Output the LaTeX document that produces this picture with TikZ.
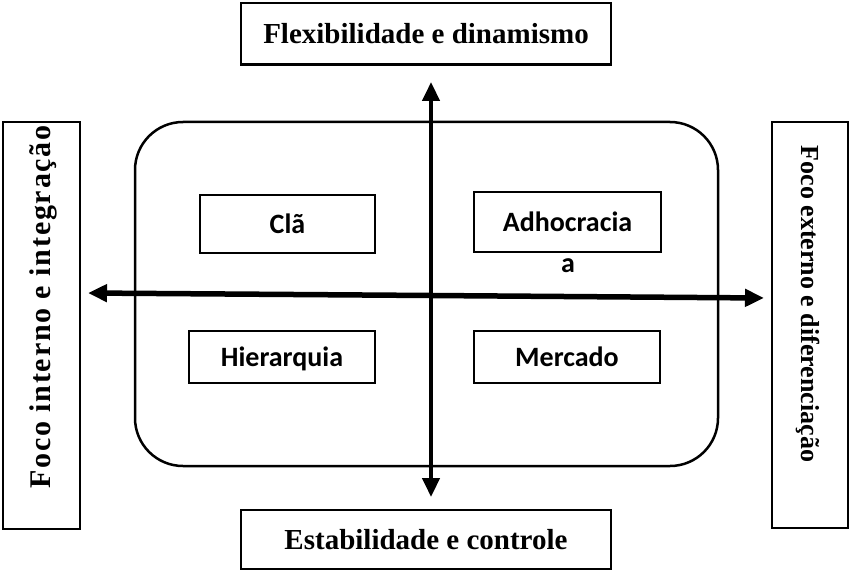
\documentclass[tikz,border=0pt]{standalone}
\usepackage{fontspec}
\setmainfont{Liberation Serif}
\newfontfamily\quadfont{Carlito}
\newfontfamily\espacada[LetterSpace=6]{Liberation Serif}
\usetikzlibrary{arrows.meta}

\tikzset{
  eixo/.style={draw,line width=2.5pt,inner sep=0pt,
    font=\fontsize{29}{33}\selectfont\bfseries},
  quadro/.style={draw,line width=2pt,inner sep=0pt,text depth=0pt,
    font=\fontsize{28}{32}\selectfont\quadfont\bfseries},
  seta/.style={-{Triangle[length=19pt,width=17pt]}},
}

\begin{document}
\begin{tikzpicture}[x=1pt,y=-1pt]
\useasboundingbox (0,0) rectangle (850,572);

\coordinate (T) at (431,82);
\coordinate (U) at (431,497);
\coordinate (L) at (88,293);
\coordinate (R) at (764,298);
\coordinate (O) at (431,295.5);

% moldura
\draw[line width=2.5pt,rounded corners=48pt] (135,122) rectangle (718,466);

% eixos
\node[eixo,minimum width=370pt,minimum height=61.5pt] (flex) at (426,33.75) {Flexibilidade e dinamismo};
\node[eixo,minimum width=370pt,minimum height=59pt] (estab) at (426,539.5) {Estabilidade e controle};
\node[eixo,minimum width=77pt,minimum height=407pt] (interno) at (41.5,325.5) {};
\node[font=\fontsize{30}{34}\selectfont\espacada\bfseries,rotate=90] (internotxt) at (43,307) {Foco interno e integração};
\node[eixo,minimum width=76pt,minimum height=406pt] (externo) at (810,325) {};
\node[font=\fontsize{26}{30}\selectfont\bfseries,rotate=-90] (externotxt) at (808,304) {Foco externo e diferenciação};

% quadrantes
\node[quadro,minimum width=175pt,minimum height=58pt] (cla) at (287.5,224) {Clã};
\node[quadro,minimum width=187pt,minimum height=60pt] (adhoc) at (567.5,222) {Adhocracia};
\node[font=\fontsize{28}{32}\selectfont\quadfont\bfseries,anchor=base] (adhoca) at (568,272) {a};
\node[quadro,minimum width=186pt,minimum height=52pt] (hier) at (282,356.5) {Hierarquia};
\node[quadro,minimum width=186pt,minimum height=52pt] (merc) at (567,356.5) {Mercado};

% setas
\draw[seta,line width=4.5pt] (O)--(T);
\draw[seta,line width=4.5pt] (O)--(U);
\draw[seta,line width=5.5pt] (O)--(L);
\draw[seta,line width=5.5pt] (O)--(R);

\end{tikzpicture}
\end{document}
